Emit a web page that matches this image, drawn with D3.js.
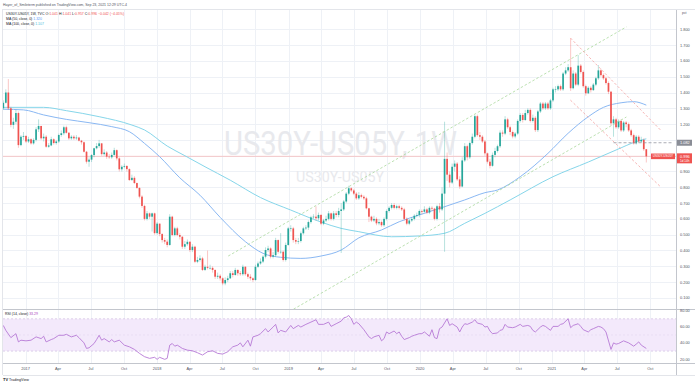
<!DOCTYPE html>
<html><head><meta charset="utf-8">
<script src="https://cdn.jsdelivr.net/npm/d3@7"></script>
<style>
html,body{margin:0;padding:0;background:#fff;}
svg{display:block;font-family:"Liberation Sans",Arial,sans-serif;}
</style></head><body>
<svg id="c" width="695" height="384"></svg>
<script>
// ---------------- DATA ----------------
const startWeek = "2016-10-31";
const firstOpen = 1.30;
const closes = [1.335,1.40,1.30,1.195,1.215,1.27,1.067,1.12,1.125,1.09,
1.104,1.078,1.10,1.167,1.188,1.11,1.12,1.057,1.065,1.104,
1.08,1.09,1.131,1.142,1.18,1.145,1.11,1.12,1.11,1.115,
1.095,1.085,1.025,0.962,0.975,1.004,1.047,1.061,1.078,1.01,
1.02,0.994,0.99,1.005,1.035,0.983,0.914,0.93,0.935,0.915,
0.846,0.86,0.827,0.796,0.741,0.682,0.60,0.635,0.614,0.635,
0.51,0.57,0.504,0.466,0.456,0.435,0.614,0.498,0.54,0.498,
0.487,0.424,0.44,0.455,0.403,0.424,0.329,0.34,0.35,0.277,
0.297,0.29,0.29,0.277,0.234,0.24,0.224,0.192,0.213,0.224,
0.256,0.245,0.277,0.256,0.25,0.297,0.25,0.234,0.224,0.213,
0.297,0.318,0.33,0.361,0.403,0.413,0.361,0.37,0.466,0.392,
0.392,0.34,0.435,0.54,0.54,0.466,0.456,0.46,0.509,0.54,
0.545,0.58,0.61,0.614,0.604,0.625,0.57,0.59,0.60,0.635,
0.60,0.635,0.625,0.65,0.66,0.71,0.76,0.794,0.78,0.76,
0.73,0.75,0.74,0.73,0.667,0.614,0.59,0.60,0.572,0.58,
0.56,0.60,0.65,0.67,0.688,0.67,0.68,0.67,0.66,0.60,
0.57,0.59,0.60,0.62,0.625,0.65,0.645,0.66,0.64,0.67,
0.665,0.60,0.68,0.66,0.76,0.98,0.88,0.83,0.93,0.95,
0.85,0.805,0.97,1.06,0.99,1.08,1.12,1.25,1.13,1.12,
1.09,1.015,0.962,0.936,1.005,1.03,1.06,1.146,1.14,1.23,
1.18,1.15,1.122,1.14,1.22,1.258,1.226,1.27,1.29,1.22,
1.24,1.162,1.28,1.33,1.30,1.33,1.30,1.35,1.42,1.42,
1.44,1.42,1.52,1.54,1.56,1.427,1.52,1.45,1.57,1.53,
1.44,1.395,1.43,1.415,1.45,1.49,1.54,1.51,1.49,1.46,
1.405,1.205,1.23,1.18,1.22,1.16,1.21,1.20,1.16,1.13,
1.078,1.12,1.09,1.10,1.041,0.996];
const highs = [1.35,1.42,1.485,1.31,1.24,1.29,1.28,1.13,1.15,1.13,
1.12,1.11,1.11,1.18,1.23,1.19,1.14,1.13,1.08,1.12,
1.11,1.10,1.14,1.16,1.19,1.19,1.15,1.13,1.13,1.13,
1.12,1.10,1.09,1.03,0.99,1.01,1.05,1.08,1.10,1.08,
1.04,1.03,1.01,1.02,1.05,1.04,0.99,0.94,0.95,0.94,
0.92,0.88,0.87,0.83,0.80,0.75,0.69,0.65,0.64,0.64,
0.64,0.58,0.57,0.51,0.48,0.47,0.63,0.62,0.55,0.55,
0.51,0.49,0.46,0.47,0.46,0.44,0.43,0.36,0.37,0.36,
0.31,0.40,0.31,0.30,0.28,0.26,0.25,0.23,0.23,0.24,
0.27,0.27,0.29,0.28,0.27,0.31,0.30,0.26,0.25,0.23,
0.31,0.33,0.35,0.37,0.42,0.43,0.42,0.39,0.48,0.47,
0.51,0.40,0.45,0.55,0.56,0.55,0.48,0.48,0.52,0.55,
0.56,0.59,0.62,0.63,0.68,0.64,0.63,0.60,0.62,0.65,
0.64,0.65,0.65,0.67,0.70,0.72,0.77,0.81,0.80,0.79,
0.77,0.77,0.76,0.75,0.74,0.67,0.62,0.62,0.61,0.60,
0.59,0.61,0.66,0.68,0.70,0.70,0.69,0.69,0.68,0.67,
0.61,0.60,0.61,0.63,0.64,0.66,0.66,0.68,0.67,0.68,
0.68,0.67,0.69,0.70,0.80,1.215,1.02,0.90,0.95,0.97,
0.96,0.87,0.99,1.08,1.07,1.09,1.14,1.258,1.26,1.15,
1.13,1.10,1.02,0.98,1.02,1.05,1.07,1.16,1.16,1.25,
1.24,1.19,1.16,1.15,1.23,1.27,1.27,1.29,1.30,1.30,
1.26,1.25,1.29,1.34,1.34,1.34,1.34,1.36,1.43,1.44,
1.45,1.45,1.53,1.56,1.58,1.743,1.54,1.53,1.637,1.58,
1.54,1.45,1.44,1.44,1.46,1.50,1.574,1.55,1.52,1.50,
1.47,1.41,1.25,1.24,1.23,1.23,1.22,1.22,1.21,1.17,
1.14,1.13,1.13,1.12,1.11,1.041];
const lows = [1.29,1.33,1.29,1.18,1.17,1.20,1.05,1.06,1.10,1.08,
1.08,1.07,1.07,1.09,1.15,1.10,1.09,1.05,1.05,1.06,
1.07,1.07,1.08,1.12,1.13,1.14,1.10,1.10,1.10,1.10,
1.09,1.07,1.02,0.95,0.93,0.96,0.99,1.04,1.05,1.00,
1.00,0.98,0.98,0.98,1.00,0.97,0.90,0.90,0.92,0.90,
0.84,0.84,0.82,0.79,0.73,0.67,0.59,0.59,0.60,0.52,
0.50,0.50,0.49,0.45,0.44,0.42,0.43,0.49,0.49,0.49,
0.47,0.41,0.41,0.43,0.39,0.39,0.32,0.32,0.33,0.27,
0.27,0.28,0.28,0.26,0.22,0.22,0.21,0.18,0.18,0.20,
0.22,0.23,0.24,0.24,0.24,0.24,0.24,0.22,0.21,0.20,
0.21,0.29,0.31,0.32,0.35,0.39,0.35,0.35,0.36,0.38,
0.38,0.33,0.33,0.43,0.52,0.45,0.44,0.44,0.45,0.50,
0.53,0.53,0.57,0.60,0.59,0.59,0.56,0.56,0.58,0.59,
0.59,0.59,0.61,0.61,0.384,0.65,0.70,0.75,0.77,0.75,
0.72,0.72,0.73,0.72,0.66,0.58,0.58,0.58,0.56,0.56,
0.55,0.55,0.59,0.64,0.66,0.66,0.66,0.66,0.65,0.59,
0.56,0.56,0.58,0.59,0.61,0.61,0.63,0.64,0.63,0.63,
0.65,0.59,0.59,0.64,0.65,0.392,0.84,0.80,0.82,0.90,
0.84,0.79,0.80,0.96,0.97,0.98,1.07,1.11,1.12,1.10,
1.08,1.00,0.95,0.92,0.93,0.99,1.02,1.05,1.12,1.13,
1.17,1.13,1.11,1.11,1.13,1.21,1.21,1.22,1.26,1.21,
1.21,1.15,1.15,1.27,1.29,1.29,1.29,1.29,1.34,1.40,
1.41,1.41,1.41,1.51,1.53,1.41,1.42,1.44,1.44,1.52,
1.43,1.38,1.39,1.40,1.41,1.44,1.48,1.50,1.48,1.45,
1.39,1.19,1.12,1.17,1.17,1.15,1.15,1.18,1.15,1.12,
1.07,1.07,1.08,1.08,1.03,0.957];
// moving averages read at sample weeks: [weekIndex, value]
const ma50 = [[0,1.294],[8,1.29],[16,1.258],[25,1.23],[34,1.209],[43,1.184],[50,1.152],[56,1.078],[62,0.994],[70,0.86],[78,0.75],[86,0.61],[96,0.456],[103,0.382],[110,0.357],[118,0.35],[126,0.365],[134,0.403],[141,0.48],[150,0.53],[157,0.582],[165,0.625],[175,0.677],[183,0.72],[191,0.766],[196,0.783],[205,0.867],[216,1.015],[224,1.142],[232,1.247],[238,1.306],[245,1.335],[250,1.342],[255,1.32]];
const ma100 = [[0,1.306],[16,1.306],[25,1.285],[38,1.247],[51,1.194],[56,1.163],[65,1.061],[72,1.0],[80,0.93],[90,0.845],[102,0.735],[114,0.656],[126,0.58],[134,0.54],[141,0.519],[154,0.487],[165,0.492],[175,0.509],[183,0.572],[191,0.635],[201,0.72],[218,0.867],[232,0.96],[243,1.036],[251,1.089],[255,1.107]];
// RSI(14) read at weeks: [weekIndex, value]
const rsi = [[0,61.8],[1,55.7],[3,46.7],[5,51.6],[6,41.4],[7,43.5],[9,42.7],[11,43.5],[13,47.6],[15,45.5],[16,48.4],[17,41.4],[19,44.3],[20,45.5],[22,49.6],[24,49.6],[25,50.8],[27,47.6],[29,49.6],[30,46.7],[32,40.2],[33,33.3],[34,34.1],[36,39.4],[37,44.3],[38,49.6],[39,43.5],[40,45.5],[42,41.4],[43,44.3],[44,41.4],[46,43.5],[48,37.4],[50,35.3],[52,32.1],[54,27.2],[56,23.1],[58,21],[60,22.3],[61,19.8],[62,22.3],[64,19.8],[65,21],[66,37.4],[67,39.4],[68,36.1],[69,37.4],[71,33.3],[73,31.2],[75,30.4],[77,28],[79,25.1],[81,29.2],[83,30.4],[85,27.2],[87,26.3],[89,29.2],[91,35.3],[93,37.4],[94,40.2],[95,35.3],[97,43.5],[98,36.1],[99,47.6],[101,49.6],[102,51.6],[104,57.8],[105,53.7],[107,59.8],[108,63.1],[109,52.5],[110,55.7],[112,53.7],[114,61.8],[115,57.8],[117,61.8],[118,59.8],[120,63.1],[122,65.9],[124,68.8],[125,63.1],[127,63.1],[129,65.9],[130,60.6],[132,63.9],[134,67.1],[135,71.2],[136,72],[137,74.1],[138,70],[139,63.1],[140,65.9],[141,63.9],[143,56.5],[145,47.6],[146,45.5],[147,47.6],[149,49.6],[150,42.7],[151,45.5],[152,53.7],[153,51.6],[155,54.9],[156,51.6],[157,53.7],[158,48.4],[159,44.3],[161,46.7],[162,48.4],[163,49.6],[165,51.6],[166,51.6],[167,53.7],[169,48.4],[170,56.5],[171,46.7],[172,45.5],[173,57.8],[174,59.8],[176,70],[177,61.8],[178,63.9],[180,59.8],[181,53.7],[182,59.8],[183,63.9],[184,63.1],[186,65.9],[187,68.8],[188,64.7],[190,63.1],[191,59.8],[192,60.6],[193,54.9],[194,51.6],[196,52.5],[197,55.7],[198,56.5],[199,63.1],[200,59.8],[202,59],[203,59.8],[205,63.1],[206,60.6],[208,61.8],[209,60.6],[210,55.7],[211,53.7],[213,59.8],[214,61.8],[215,60.6],[217,55.7],[218,60.6],[220,60.6],[221,63.1],[222,63.9],[224,70],[225,59],[226,61.8],[228,63.9],[229,60.6],[230,56.5],[232,53.7],[233,56.5],[234,57.8],[236,60.6],[237,59.8],[238,57.8],[239,53.7],[241,32.1],[242,40.2],[243,38.6],[244,39.4],[246,42.7],[247,41.4],[248,40.2],[250,36.1],[251,38.6],[252,41.4],[253,37.4],[255,33.29]];
// drawings: [weekIndex, price] endpoints
const channelUp = [[[89.2,0.365],[247.1,1.815]], [[112,0.0],[247.1,1.245]]];
const channelDown = [[[224.9,1.745],[260.6,1.163]], [[224.9,1.352],[260.6,0.804]]];
const hLine = [[242,1.082],[265,1.082]];
const priceTicks = [0.1,0.2,0.3,0.4,0.5,0.6,0.7,0.8,0.9,1.0,1.1,1.2,1.3,1.4,1.5,1.6,1.7,1.8];
const rsiTicks = [20,40,60,80];
const timeTicks = ["2017-01-01","2017-04-01","2017-07-01","2017-10-01","2018-01-01","2018-04-01","2018-07-01","2018-10-01","2019-01-01","2019-04-01","2019-07-01","2019-10-01","2020-01-01","2020-04-01","2020-07-01","2020-10-01","2021-01-01","2021-04-01","2021-07-01","2021-10-01"];
const timeLabels = ["2017","Apr","Jul","Oct","2018","Apr","Jul","Oct","2019","Apr","Jul","Oct","2020","Apr","Jul","Oct","2021","Apr","Jul","Oct"];
const lastClose = 0.996, hLevel = 1.082;

// ---------------- LAYOUT ----------------
const svg = d3.select("#c");
const parse = d3.utcParse("%Y-%m-%d");
const t0 = parse(startWeek);
const wk = i => new Date(t0.getTime() + i*7*864e5);
const x = d3.scaleUtc().domain([wk(0), wk(255)]).range([3.3, 646.3]);
const y = d3.scaleLinear().domain([0.1, 1.8]).range([297.9, 29.3]);
const yr = d3.scaleLinear().domain([30, 70]).range([351.1, 318.8]);
const L = 3, R = 676, T = 9, PB = 309, RB = 363;
const up = "#26a69a", dn = "#ef5350", grid = "#eef1f6", txt = "#50535e";

svg.append("rect").attr("width",695).attr("height",384).attr("fill","#fff");
const defs = svg.append("defs");
defs.append("clipPath").attr("id","mp").append("rect").attr("x",L).attr("y",T).attr("width",R-L).attr("height",PB-T);
defs.append("clipPath").attr("id","rp").append("rect").attr("x",L).attr("y",PB).attr("width",R-L).attr("height",RB-PB);

// grid
const g = svg.append("g");
g.selectAll(".hg").data(priceTicks).join("line").attr("x1",L).attr("x2",R)
  .attr("y1",d=>Math.round(y(d))+0.5).attr("y2",d=>Math.round(y(d))+0.5).attr("stroke",grid).attr("stroke-width",1);
g.selectAll(".vg").data(timeTicks).join("line")
  .attr("x1",d=>Math.round(x(parse(d)))+0.5).attr("x2",d=>Math.round(x(parse(d)))+0.5)
  .attr("y1",T).attr("y2",RB).attr("stroke",grid).attr("stroke-width",1);
g.selectAll(".rg").data([50]).join("line").attr("x1",L).attr("x2",R)
  .attr("y1",d=>yr(d)).attr("y2",d=>yr(d)).attr("stroke",grid);

// watermark
svg.append("text").attr("x",224).attr("y",155)
  .attr("font-family","Roboto, 'Liberation Sans', sans-serif").attr("font-size",34).attr("fill","#e8e9ed")
  .attr("textLength",233).attr("lengthAdjust","spacingAndGlyphs")
  .text("US30Y-US05Y, 1W");
svg.append("text").attr("x",296).attr("y",182)
  .attr("font-family","Roboto, 'Liberation Sans', sans-serif").attr("font-size",15).attr("fill","#e8e9ed")
  .attr("textLength",88).attr("lengthAdjust","spacingAndGlyphs")
  .text("US30Y-US05Y");

// main pane content
const mp = svg.append("g").attr("clip-path","url(#mp)");
mp.append("line").attr("x1",L).attr("x2",R).attr("y1",y(lastClose)).attr("y2",y(lastClose))
  .attr("stroke","#f7b4b3").attr("stroke-width",0.7);
const maLine = d3.line().x(d=>x(wk(d[0]))).y(d=>y(d[1])).curve(d3.curveMonotoneX);
mp.append("path").attr("d",maLine(ma100)).attr("fill","none").attr("stroke","#86d6ea").attr("stroke-width",1);
mp.append("path").attr("d",maLine(ma50)).attr("fill","none").attr("stroke","#8ab8f3").attr("stroke-width",1);

// candles
const bars = closes.map((c,i)=>({i, o: i===0?firstOpen:closes[i-1], c, h: highs[i], l: lows[i]}));
const cg = mp.append("g");
cg.selectAll(".w").data(bars).join("line")
  .attr("x1",d=>x(wk(d.i))).attr("x2",d=>x(wk(d.i)))
  .attr("y1",d=>y(d.h)).attr("y2",d=>y(d.l))
  .attr("stroke",d=>d.c>=d.o?up:dn).attr("stroke-width",0.6).attr("stroke-opacity",0.55);
cg.selectAll(".b").data(bars).join("rect")
  .attr("x",d=>x(wk(d.i))-0.85).attr("width",1.7)
  .attr("y",d=>y(Math.max(d.o,d.c)))
  .attr("height",d=>Math.max(0.6, Math.abs(y(d.o)-y(d.c))))
  .attr("fill",d=>d.c>=d.o?up:dn);

// drawings
const seg = d3.line().x(d=>x(wk(d[0]))).y(d=>y(d[1]));
channelUp.forEach(s=>mp.append("path").attr("d",seg(s)).attr("stroke","#a9d89c").attr("stroke-width",0.8)
  .attr("stroke-dasharray","2.5,2").attr("fill","none"));
channelDown.forEach(s=>mp.append("path").attr("d",seg(s)).attr("stroke","#f4a3a2").attr("stroke-width",0.8)
  .attr("stroke-dasharray","2.5,2").attr("fill","none"));
mp.append("path").attr("d",seg(hLine)).attr("stroke","#9598a1").attr("stroke-width",0.8)
  .attr("stroke-dasharray","3,2").attr("fill","none");

// symbol label on chart
mp.append("rect").attr("x",651).attr("y",y(lastClose)-2.8).attr("width",24).attr("height",5.6).attr("fill",dn);
mp.append("text").attr("x",663).attr("y",y(lastClose)+1.1).attr("text-anchor","middle")
  .attr("font-size",3.1).attr("fill","#fff").text("US30Y-US05Y");

// RSI pane
const rp = svg.append("g").attr("clip-path","url(#rp)");
rp.append("rect").attr("x",L).attr("width",R-L).attr("y",yr(70)).attr("height",yr(30)-yr(70)).attr("fill","#f3e9fb");
[70,30].forEach(v=>rp.append("line").attr("x1",L).attr("x2",R).attr("y1",yr(v)).attr("y2",yr(v))
  .attr("stroke","#c9b6dd").attr("stroke-width",0.6).attr("stroke-dasharray","2,2"));
rp.append("line").attr("x1",L).attr("x2",R).attr("y1",yr(50)).attr("y2",yr(50))
  .attr("stroke","#e0d2ee").attr("stroke-width",0.5).attr("stroke-dasharray","2,2");
const rl = d3.line().x(d=>x(wk(d[0]))).y(d=>yr(d[1]));
rp.append("path").attr("d",rl(rsi)).attr("fill","none").attr("stroke","#b779d6").attr("stroke-width",0.9);

// frame lines
svg.append("line").attr("x1",L).attr("x2",695).attr("y1",PB+0.5).attr("y2",PB+0.5).attr("stroke","#c3c6cd").attr("stroke-width",1);
svg.append("line").attr("x1",L).attr("x2",695).attr("y1",RB+0.5).attr("y2",RB+0.5).attr("stroke","#c3c6cd").attr("stroke-width",1);
svg.append("line").attr("x1",R+0.5).attr("x2",R+0.5).attr("y1",T).attr("y2",375).attr("stroke","#c3c6cd").attr("stroke-width",1);
svg.append("line").attr("x1",L).attr("x2",695).attr("y1",T+0.5).attr("y2",T+0.5).attr("stroke","#e3e5ea");
svg.append("line").attr("x1",L-0.5).attr("x2",L-0.5).attr("y1",T).attr("y2",375).attr("stroke","#e3e5ea");
svg.append("line").attr("x1",L).attr("x2",695).attr("y1",375.5).attr("y2",375.5).attr("stroke","#e3e5ea");

// price axis labels (levels hidden behind a price box are skipped, as the platform does)
const boxed = [hLevel, lastClose];
const ax = svg.append("g").attr("font-size",3.9).attr("fill",txt);
ax.selectAll("text.p").data(priceTicks.filter(d=>boxed.every(b=>Math.abs(y(b)-y(d))>4.2))).join("text")
  .attr("x",680).attr("y",d=>y(d)+1.4).text(d=>d3.format(".3f")(d));
ax.selectAll("text.r").data(rsiTicks).join("text").attr("x",680).attr("y",d=>yr(d)+1.4)
  .text(d=>d3.format(".2f")(d));
ax.append("text").attr("x",682).attr("y",14).attr("font-size",3.4).text("pct");
svg.append("rect").attr("x",677).attr("y",y(hLevel)-3).attr("width",15).attr("height",6).attr("fill","#8a8d96");
svg.append("text").attr("x",680).attr("y",y(hLevel)+1.4).attr("font-size",3.9).attr("fill","#fff").text(d3.format(".3f")(hLevel));
svg.append("rect").attr("x",677).attr("y",y(lastClose)-3).attr("width",15).attr("height",10).attr("fill",dn);
svg.append("text").attr("x",680).attr("y",y(lastClose)+1.4).attr("font-size",3.9).attr("fill","#fff").text(d3.format(".3f")(lastClose));
svg.append("text").attr("x",680).attr("y",y(lastClose)+5.6).attr("font-size",3.1).attr("fill","#fff").text("1d 14h");

// time labels
svg.append("g").attr("font-size",3.9).attr("fill",txt).attr("text-anchor","middle")
  .selectAll("text").data(timeTicks).join("text").attr("x",d=>x(parse(d))).attr("y",369.8)
  .text((d,i)=>timeLabels[i]);

// legends
const lg = svg.append("g").attr("font-size",3.5).attr("fill","#131722");
lg.append("text").attr("x",3).attr("y",6).attr("fill","#50535e")
  .text("Hayer_of_Smileterm published on TradingView.com, Sep 23, 2021 12:29 UTC-4");
const l1 = lg.append("text").attr("x",6).attr("y",14.5);
l1.append("tspan").text("US30Y-US05Y, 1W, TVC  ");
[["O:","1.041"],["H:","1.041"],["L:","0.957"],["C:","0.996"]].forEach(p=>{
  l1.append("tspan").text(p[0]); l1.append("tspan").attr("fill",dn).text(p[1]+" ");
});
l1.append("tspan").attr("fill",dn).text("−0.042 (−4.05%)");
const l2 = lg.append("text").attr("x",6).attr("y",19.7);
l2.append("tspan").text("MA (50, close, 0)  "); l2.append("tspan").attr("fill","#5b9cf6").text("1.320");
const l3 = lg.append("text").attr("x",6).attr("y",24.9);
l3.append("tspan").text("MA (100, close, 0)  "); l3.append("tspan").attr("fill","#4dc3dc").text("1.107");
const l4 = lg.append("text").attr("x",5).attr("y",315);
l4.append("tspan").text("RSI (14, close)  "); l4.append("tspan").attr("fill","#ab47bc").text("33.29");

// logo
svg.append("text").attr("x",3).attr("y",381).attr("font-size",4).attr("font-weight","bold").attr("fill","#131722").text("TV");
svg.append("text").attr("x",9).attr("y",381).attr("font-size",3.6).attr("fill","#131722").text("TradingView");
</script>
</body></html>
